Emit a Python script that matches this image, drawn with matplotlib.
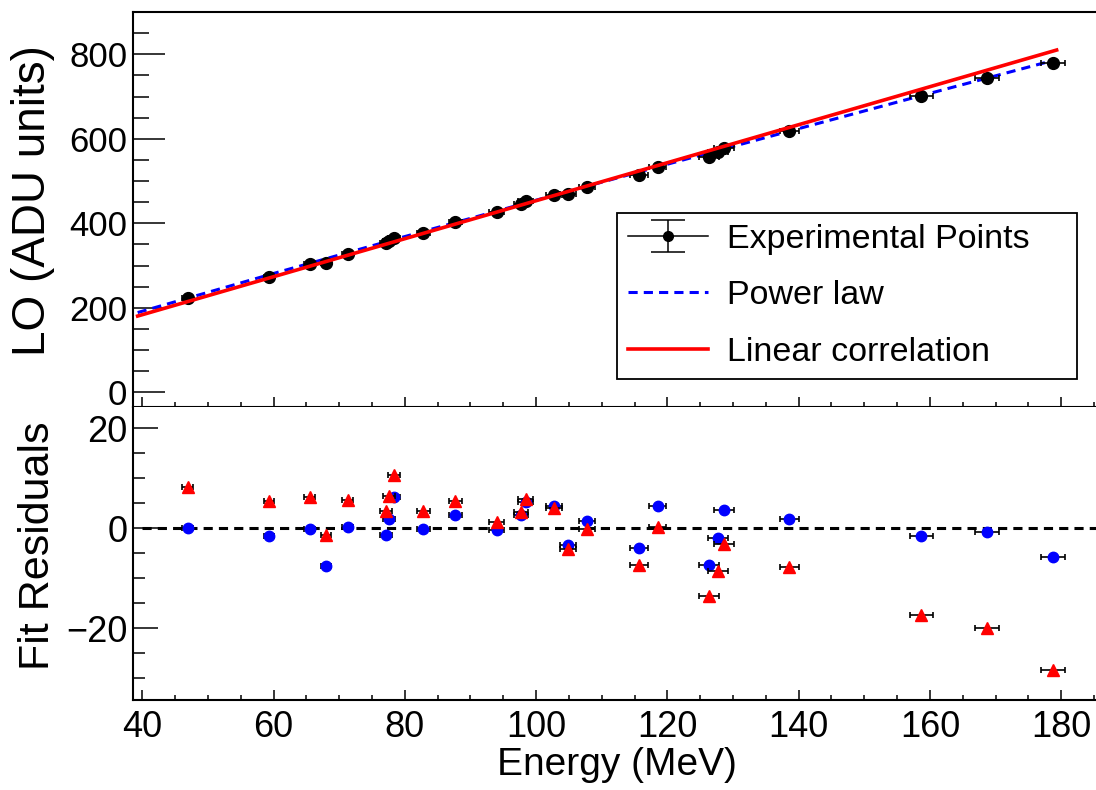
import matplotlib
matplotlib.use("Agg")
import matplotlib.pyplot as plt
from matplotlib.ticker import MultipleLocator
from matplotlib.legend_handler import HandlerErrorbar

plt.rcParams["font.family"] = ["Liberation Sans", "DejaVu Sans"]
plt.rcParams["axes.unicode_minus"] = True

energy = [46.9, 59.3, 65.5, 68.0, 71.3, 77.1, 77.6, 78.3, 82.8, 87.7, 94.0, 97.7, 98.4,
          102.7, 104.9, 107.7, 115.7, 118.5, 126.3, 127.7, 128.6, 138.6, 158.7, 168.7, 178.7]
energy_err = [0.8, 0.8, 0.8, 0.8, 0.8, 0.9, 0.9, 0.9, 1.0, 1.0, 1.1, 1.1, 1.1,
              1.2, 1.2, 1.2, 1.4, 1.3, 1.5, 1.5, 1.5, 1.5, 1.7, 1.8, 1.85]
light_output = [223, 273, 303, 306, 328, 353, 358, 366, 378, 403, 427, 446, 452,
                468, 470, 487, 515, 534, 557, 569, 578, 619, 701, 743, 779]
resid_power = [0.1, -1.6, -0.1, -7.5, 0.3, -1.3, 1.9, 6.2, -0.2, 2.7, -0.3, 2.7, 5.3,
               4.4, -3.3, 1.5, -3.9, 4.4, -7.3, -1.9, 3.7, 1.9, -1.6, -0.8, -5.8]
resid_linear = [8.3, 5.5, 6.2, -1.4, 5.7, 3.4, 6.5, 10.6, 3.5, 5.5, 1.3, 3.3, 5.9,
                4.1, -4.1, -0.1, -7.4, 0.3, -13.6, -8.6, -3.1, -7.8, -17.4, -19.9, -28.3]

# fitted curves
power_e = [39.3, 60, 80, 100, 120, 140, 160, 179.3]
power_lo = [188.8, 281.2, 368.6, 454.7, 539.8, 624.0, 707.6, 787.5]
linear_e = [39.3, 179.3]
linear_lo = [180.5, 810.0]
zero_e = [40, 185.3]

XMIN, XMAX = 38.6, 185.3

fig = plt.figure(figsize=(10.96, 7.90), dpi=100)
ax_top = fig.add_axes([0.1214, 0.4852, 0.8786, 0.4996])
ax_bot = fig.add_axes([0.1214, 0.1139, 0.8786, 0.3713])

# ---- top panel: light output vs energy
ax_top.errorbar(energy, light_output, xerr=energy_err, fmt="o", color="black", ms=8.5,
                ecolor="black", elinewidth=1.2, capsize=2.5, capthick=1.2, zorder=3)
power_line, = ax_top.plot(power_e, power_lo, color="blue", lw=2.2, dashes=(3, 2), zorder=2)
linear_line, = ax_top.plot(linear_e, linear_lo, color="red", lw=2.6, zorder=4)

# proxy for the legend entry (vertical bar + caps + line)
proxy = ax_top.errorbar([float("nan")], [float("nan")], yerr=[1.0], fmt="o-", color="black",
                        ms=7, lw=1.1, elinewidth=1.1, capsize=12, capthick=1.1)
leg = ax_top.legend([proxy, power_line, linear_line],
                    ["Experimental Points", "Power law", "Linear correlation"],
                    loc="upper left", bbox_to_anchor=(0.5026, 0.0676, 0.4777, 0.4232),
                    mode="expand", borderaxespad=0, fontsize=24.5, handlelength=2.35,
                    handletextpad=0.55, labelspacing=0.75, borderpad=0.32,
                    fancybox=False, framealpha=1, edgecolor="black",
                    handler_map={proxy: HandlerErrorbar(xerr_size=0.5, yerr_size=0.47)})
leg.get_frame().set_linewidth(1.3)

ax_top.set_xlim(XMIN, XMAX)
ax_top.set_ylim(-34, 900)
ax_top.yaxis.set_major_locator(MultipleLocator(200))
ax_top.yaxis.set_minor_locator(MultipleLocator(50))
ax_top.xaxis.set_major_locator(MultipleLocator(20))
ax_top.xaxis.set_minor_locator(MultipleLocator(5))
ax_top.tick_params(axis="y", which="major", direction="in", length=23, width=1.1, labelsize=25, pad=4)
ax_top.tick_params(axis="y", which="minor", direction="in", length=11.5, width=1.1)
ax_top.tick_params(axis="x", which="major", direction="in", length=7.5, width=1.1, labelbottom=False)
ax_top.tick_params(axis="x", which="minor", direction="in", length=3.6, width=1.1)
ax_top.set_ylabel("LO (ADU units)", fontsize=33, va="center")
ax_top.yaxis.set_label_coords(-0.1038, 0.521)
ax_top.spines["right"].set_visible(False)

# ---- bottom panel: residuals
ax_bot.plot(zero_e, [0, 0], color="black", lw=2.2, dashes=(3, 2), zorder=2)
ax_bot.errorbar(energy, resid_power, xerr=energy_err, fmt="o", color="blue", ms=7.5,
                ecolor="black", elinewidth=1.2, capsize=2.5, capthick=1.2, zorder=3)
ax_bot.errorbar(energy, resid_linear, xerr=energy_err, fmt="^", color="red", ms=8,
                ecolor="black", elinewidth=1.2, capsize=2.5, capthick=1.2, zorder=4)

ax_bot.set_xlim(XMIN, XMAX)
ax_bot.set_ylim(-34.4, 24.3)
ax_bot.yaxis.set_major_locator(MultipleLocator(20))
ax_bot.yaxis.set_minor_locator(MultipleLocator(5))
ax_bot.xaxis.set_major_locator(MultipleLocator(20))
ax_bot.xaxis.set_minor_locator(MultipleLocator(5))
ax_bot.tick_params(axis="y", which="major", direction="in", length=18, width=1.1, labelsize=26, pad=4)
ax_bot.tick_params(axis="y", which="minor", direction="in", length=8.6, width=1.1)
ax_bot.tick_params(axis="x", which="major", direction="in", length=7.5, width=1.1, labelsize=26, pad=7)
ax_bot.tick_params(axis="x", which="minor", direction="in", length=3.6, width=1.1)
ax_bot.set_ylabel("Fit Residuals", fontsize=31, va="center")
ax_bot.yaxis.set_label_coords(-0.0987, 0.525)
ax_bot.set_xlabel("Energy (MeV)", fontsize=28, va="center")
ax_bot.xaxis.set_label_coords(0.503, -0.2216)
ax_bot.spines["right"].set_visible(False)
ax_bot.spines["top"].set_visible(False)

for ax in (ax_top, ax_bot):
    for side in ("left", "bottom", "top"):
        ax.spines[side].set_linewidth(1.5)

fig.savefig("out.png", dpi=100)
